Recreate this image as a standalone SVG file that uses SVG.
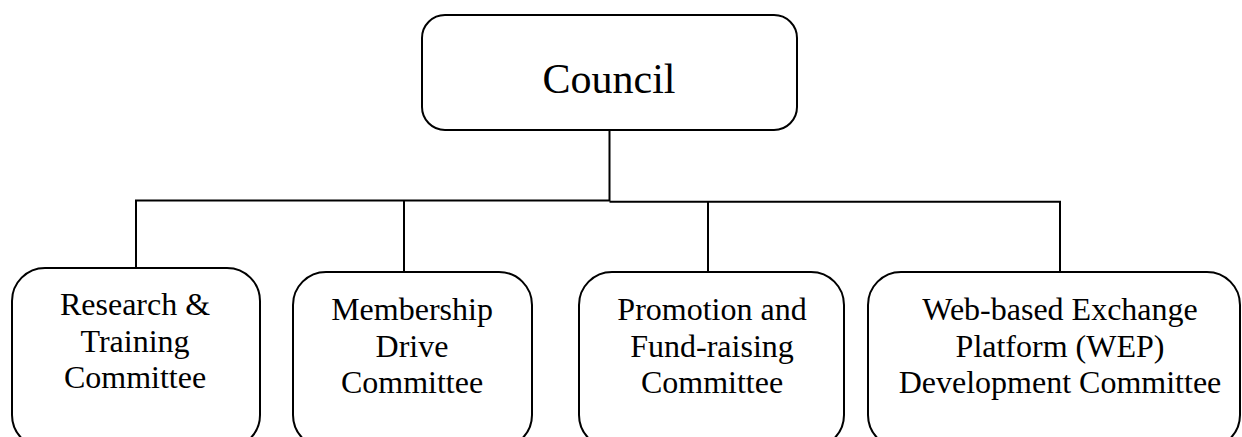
<svg xmlns="http://www.w3.org/2000/svg" width="1242" height="437" viewBox="0 0 1242 437">
<style>
.box{fill:#fff;stroke:#000;stroke-width:2}
.ln{fill:none;stroke:#000;stroke-width:2}
text{font-family:"Liberation Serif","Times New Roman",serif;fill:#000;text-anchor:middle}
.t{font-size:32px}
.big{font-size:42px}
</style>
<rect width="1242" height="437" fill="#fff"/>
<g id="connectors">
<path class="ln" d="M609.5,130 V200.5 H136 V268"/>
<path class="ln" d="M404,200.5 V272"/>
<path class="ln" d="M609.5,201.7 H1060 V272"/>
<path class="ln" d="M708,201.7 V272"/>
</g>
<g id="council">
<rect class="box" x="422" y="15" width="375" height="115" rx="23" ry="23"/>
<text class="big" x="609" y="93">Council</text>
</g>
<g id="research">
<rect class="box" x="12" y="268" width="248" height="180" rx="33" ry="33"/>
<text class="t" x="135" y="315">Research &amp;</text>
<text class="t" x="135" y="352">Training</text>
<text class="t" x="135" y="388">Committee</text>
</g>
<g id="membership">
<rect class="box" x="293" y="272" width="239" height="176" rx="33" ry="33"/>
<text class="t" x="412" y="320">Membership</text>
<text class="t" x="412" y="357">Drive</text>
<text class="t" x="412" y="393">Committee</text>
</g>
<g id="promotion">
<rect class="box" x="579" y="272" width="265" height="176" rx="33" ry="33"/>
<text class="t" x="712" y="320">Promotion and</text>
<text class="t" x="712" y="357">Fund-raising</text>
<text class="t" x="712" y="393">Committee</text>
</g>
<g id="wep">
<rect class="box" x="868" y="272" width="372" height="176" rx="33" ry="33"/>
<text class="t" x="1060" y="320">Web-based Exchange</text>
<text class="t" x="1060" y="357">Platform (WEP)</text>
<text class="t" x="1060" y="393">Development Committee</text>
</g>
</svg>
